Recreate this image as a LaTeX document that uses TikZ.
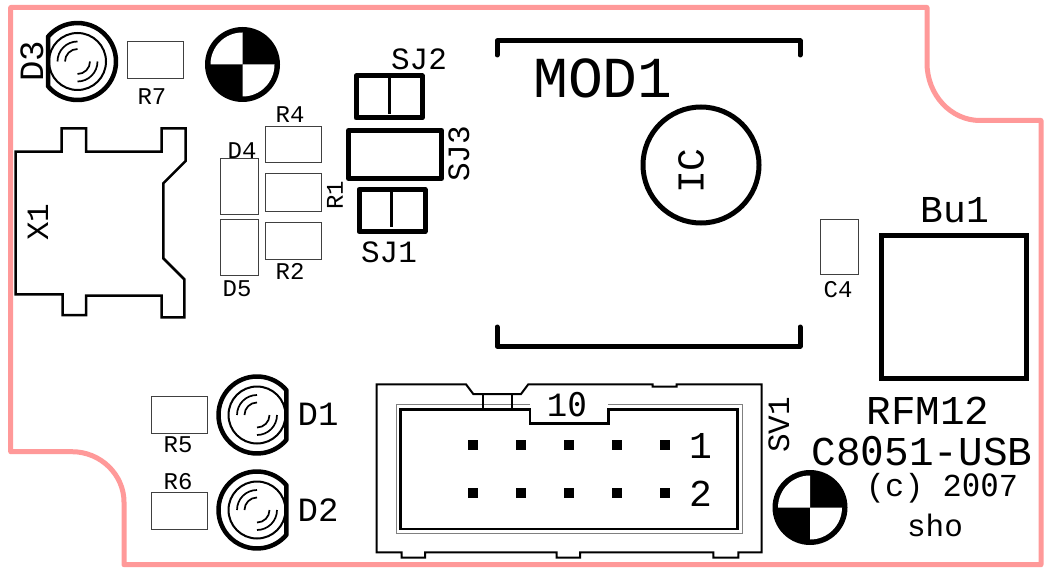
\documentclass[tikz,border=0pt]{standalone}
\usepackage{fontspec}
\usepackage{xcolor}
\usepackage{tikz}
\newfontfamily\silkfont{Liberation Mono}
\newfontfamily\slashfont[Scale=0.96]{DejaVu Sans Mono}
\newcommand{\zeroglyph}{{\slashfont 0}}
\definecolor{boardpink}{HTML}{FF9999}
\tikzset{
  silk/.style={font=\silkfont\fontsize{#1}{#1}\selectfont,inner sep=0pt,text=black},
  thinbox/.style={draw=black!75,line width=1pt},
  fatline/.style={draw=black,line width=5pt,line join=round,line cap=round},
  ledpic/.pic={
    \draw[line width=4.5pt,line join=round] (40:38.5pt) arc[start angle=40,end angle=320,radius=38.5pt] -- cycle;
    \draw[line width=2pt] (0,0) circle[radius=28.5pt];
    \draw[line width=1.7pt] (90:20pt) arc[start angle=90,end angle=180,radius=20pt];
    \draw[line width=1.7pt] (90:12.5pt) arc[start angle=90,end angle=180,radius=12.5pt];
    \draw[line width=1.7pt] (270:20pt) arc[start angle=270,end angle=360,radius=20pt];
    \draw[line width=1.7pt] (270:12.5pt) arc[start angle=270,end angle=360,radius=12.5pt];
  },
  fiducial/.pic={
    \fill[black] (0,0) circle[radius=37.5pt];
    \fill[white] (0,0) -- (180:32pt) arc[start angle=180,end angle=90,radius=32pt] -- cycle;
    \fill[white] (0,0) -- (0:32pt) arc[start angle=0,end angle=-90,radius=32pt] -- cycle;
  }
}

\begin{document}
\begin{tikzpicture}[x=1pt,y=-1pt]
    \useasboundingbox[fill=white] (0,0) rectangle (1046,572);
    % board outline
    \draw[boardpink,line width=5pt,line join=round] (10.7,7.5) -- (927,7.5) -- (927,63)
      .. controls (927,95) and (951,120.5) .. (980,120.5) -- (1041,120.5) -- (1041,564.7)
      -- (124,564.7) -- (124,502) .. controls (124,475) and (101,451.7) .. (72,451.7) -- (10.7,451.7) -- cycle;
    % module
    \draw[fatline] (497,55) -- (497,41) -- (800,41) -- (800,55);
    \draw[fatline] (497,327) -- (497,346) -- (800,346) -- (800,327);
    \node[silk=58] (MOD) at (603,78) {MOD1};
    \draw[line width=5pt] (701,165) circle[radius=58pt];
    \node[silk=38,rotate=90] (IC) at (691,171) {IC};
    % socket
    \draw[line width=5pt] (881,235) rectangle (1026,378);
    \node[silk=38] (Bu) at (955,210) {Bu1};
    % jumpers
    \draw[fatline] (356,76) rectangle (422,118);
    \draw[line width=3pt] (389,76) -- (389,114);
    \draw[fatline] (348.5,130.5) rectangle (441.5,178.5);
    \draw[fatline] (359,189.5) rectangle (425,231.5);
    \draw[line width=3pt] (391.3,189.5) -- (391.3,227);
    \node[silk=31] (SJtwo) at (419,59) {SJ2};
    \node[silk=31,rotate=90] (SJthree) at (459,154) {SJ3};
    \node[silk=31] (SJone) at (389,252) {SJ1};
    % crystal
    \draw[line width=2.5pt,line join=miter] (15.7,151.7) -- (61.7,151.7) -- (61.7,128.3) -- (86,128.3)
      -- (86,151.7) -- (161.7,151.7) -- (161.7,128.3) -- (185.7,128.3) -- (185.7,161) -- (163.3,183.3)
      -- (163.3,258.3) -- (184.3,279.3) -- (184.3,317.3) -- (161.7,317.3) -- (161.7,295.7) -- (86,295.7)
      -- (86,315) -- (62.7,315) -- (62.7,294.3) -- (15.7,294.3) -- cycle;
    \node[silk=31,rotate=90] (X) at (38,222) {X1};
    % small parts
    \draw[thinbox] (127,42) rectangle (183,79);
    \draw[thinbox] (265,127) rectangle (321,163);
    \draw[thinbox] (265,174) rectangle (321,211);
    \draw[thinbox] (265,222) rectangle (321,259);
    \draw[thinbox] (220,159) rectangle (258,214);
    \draw[thinbox] (220,219) rectangle (258,275);
    \draw[thinbox] (151,396) rectangle (207,433);
    \draw[thinbox] (151,492) rectangle (207,529);
    \draw[thinbox] (820,219) rectangle (858,274);
    \node[silk=24] (Rseven) at (152,97) {R7};
    \node[silk=24] (Rfour) at (290,115) {R4};
    \node[silk=24] (Dfour) at (242,151) {D4};
    \node[silk=24,rotate=90] (Rone) at (335,195) {R1};
    \node[silk=24] (Rtwo) at (290,271) {R2};
    \node[silk=24] (Dfive) at (237,289) {D5};
    \node[silk=24] (Rfive) at (178,445) {R5};
    \node[silk=24] (Rsix) at (178,482) {R6};
    \node[silk=24] (Cfour) at (838,290) {C4};
    % leds
    \pic[rotate=180] at (77.5,61.5) {ledpic};
    \pic at (257,415) {ledpic};
    \pic at (257,510) {ledpic};
    \node[silk=34,rotate=90] (Dthree) at (32,61) {D3};
    \node[silk=34] (Done) at (318,414) {D1};
    \node[silk=34] (Dtwo) at (318,510) {D2};
    % fiducials
    \pic at (242.5,64.5) {fiducial};
    \pic at (810,507.5) {fiducial};
    % header
    \draw[line width=2pt] (376.7,384.3) -- (466,384.3) -- (473.3,394) -- (521,394) -- (528.3,384.3)
      -- (652.7,384.3) -- (652.7,386.7) -- (676.7,386.7) -- (676.7,384.3) -- (761.7,384.3) -- (761.7,552.3)
      -- (738.3,552.3) -- (738.3,557.7) -- (713.3,557.7) -- (713.3,552.3) -- (580,552.3) -- (580,557.7)
      -- (556.7,557.7) -- (556.7,552.3) -- (425,552.3) -- (425,557.7) -- (401.7,557.7) -- (401.7,552.3)
      -- (376.7,552.3) -- cycle;
    \draw[black!50,line width=1pt] (530,404) -- (396,404) -- (396,533.3) -- (742.3,533.3) -- (742.3,404) -- (608.3,404);
    \draw[line width=2.5pt] (530,409.3) -- (400.7,409.3) -- (400.7,529) -- (737.3,529) -- (737.3,409.3)
      -- (608.3,409.3) -- (608.3,423.3) -- (530,423.3) -- cycle;
    \draw[line width=2pt] (482.7,394) -- (482.7,409.3);
    \draw[line width=2pt] (511.7,394) -- (511.7,409.3);
    \foreach \x in {473.3,521,569,617,665} {
      \foreach \y in {445.3,493} {
        \fill (\x-5,\y-5) rectangle (\x+5,\y+5);
      }
    }
    \node[silk=34] (ten) at (567,405) {1\zeroglyph};
    \node[silk=38] (pinone) at (701,446) {1};
    \node[silk=38] (pintwo) at (701,494) {2};
    \node[silk=31,rotate=90] (SV) at (779,425) {SV1};
    % legend
    \node[silk=41] (RFM) at (928,411) {RFM12};
    \node[silk=41] (CUSB) at (922,451) {C8\zeroglyph51-USB};
    \node[silk=32] (year) at (942,488) {(c) 2\zeroglyph\zeroglyph7};
    \node[silk=31] (sho) at (935,525) {sho};
\end{tikzpicture}
\end{document}
